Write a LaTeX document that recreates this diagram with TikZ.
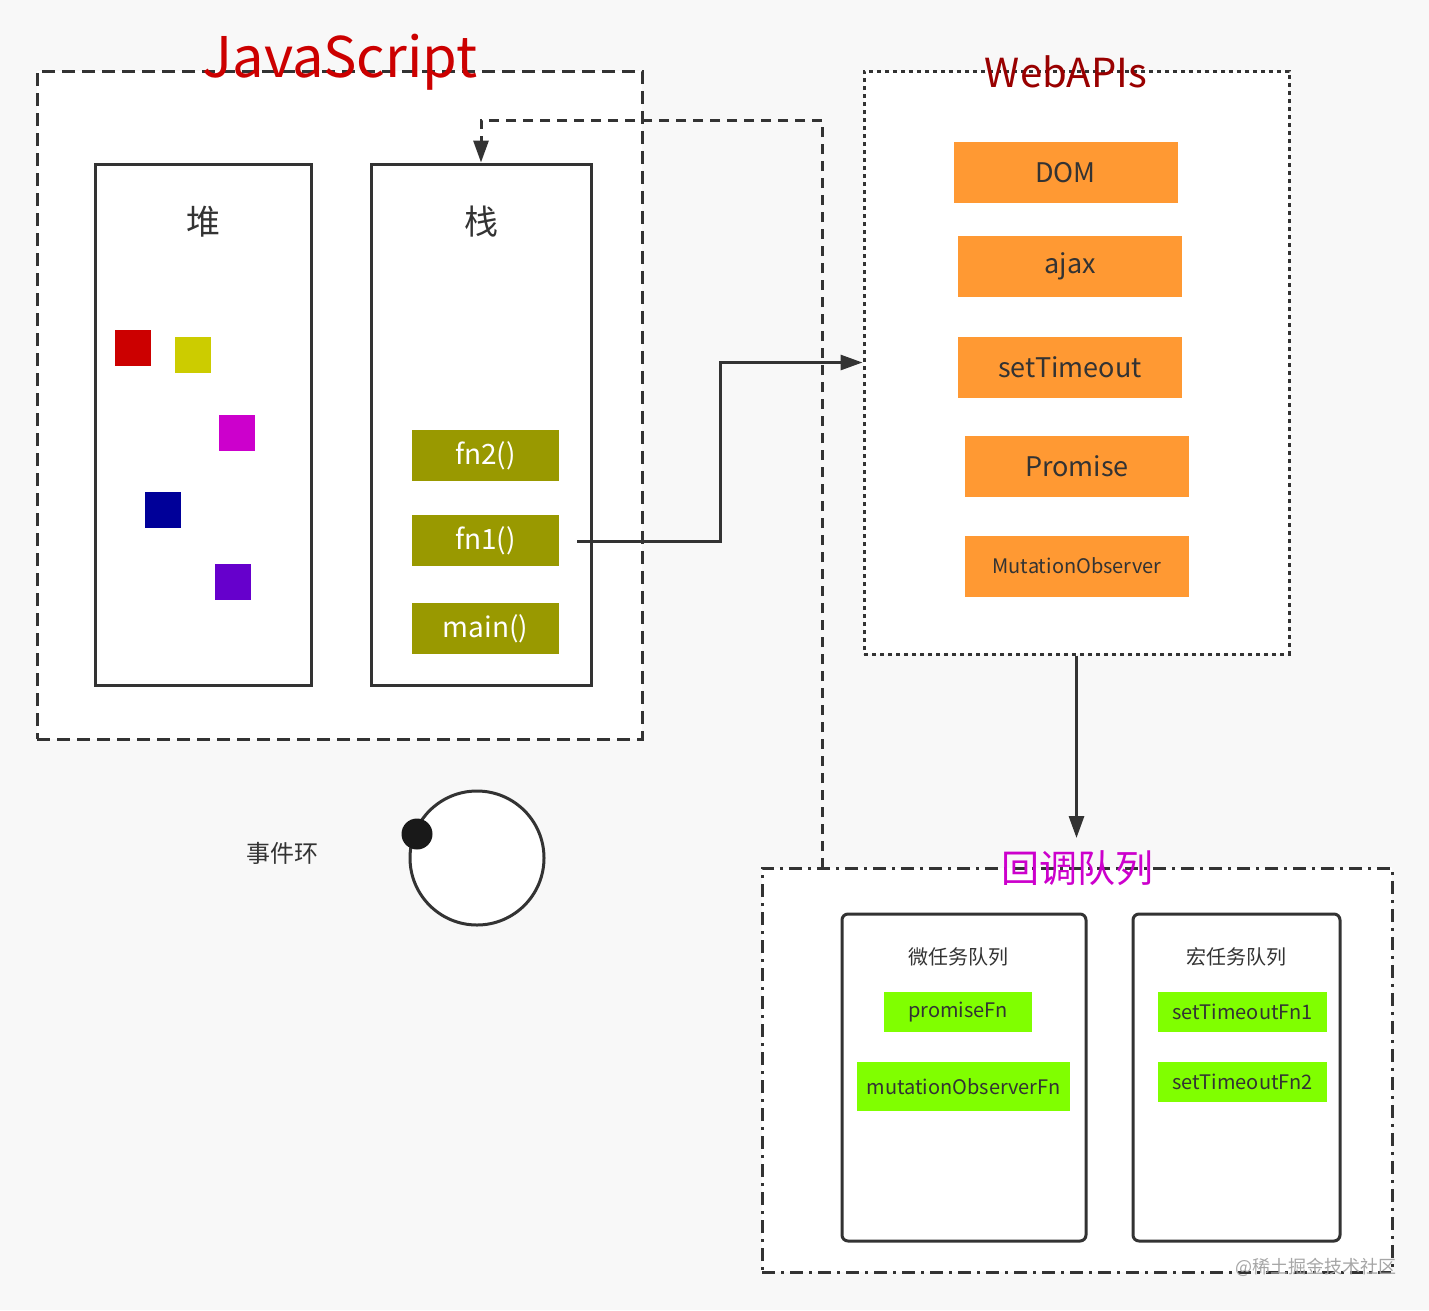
\documentclass[tikz,border=0pt]{standalone}
\usepackage{fontspec}
\setmainfont{Noto Sans CJK SC}
\usetikzlibrary{arrows.meta}
\definecolor{bg}{HTML}{F8F8F8}
\definecolor{ln}{HTML}{333333}
\definecolor{jsred}{HTML}{CC0000}
\definecolor{apired}{HTML}{990000}
\definecolor{cbmag}{HTML}{CC00CC}
\definecolor{olive}{HTML}{999900}
\definecolor{orng}{HTML}{FF9933}
\definecolor{lime}{HTML}{80FF00}
\definecolor{sqred}{HTML}{CC0000}
\definecolor{sqyel}{HTML}{CCCC00}
\definecolor{sqmag}{HTML}{CC00CC}
\definecolor{sqnavy}{HTML}{000099}
\definecolor{sqpur}{HTML}{6600CC}
\tikzset{
  container/.style={draw=ln, line width=3pt, fill=white, inner sep=0pt},
  jsbox/.style={container, dash pattern=on 13pt off 7pt},
  apibox/.style={container, dash pattern=on 4pt off 4pt},
  cbbox/.style={container, dash pattern=on 13pt off 6pt on 3pt off 6pt},
  colbox/.style={draw=ln, line width=3pt, fill=white, inner sep=0pt},
  qbox/.style={draw=ln, line width=3pt, fill=white, rounded corners=6pt, inner sep=0pt},
  sq/.style={inner sep=0pt, minimum size=36pt},
  fnbox/.style={fill=olive, text=white, inner sep=0pt, minimum width=147pt, minimum height=51pt, font=\fontsize{28}{30}\selectfont},
  apiitem/.style={fill=orng, text=ln, inner sep=0pt, minimum width=224pt, minimum height=61pt, font=\fontsize{27}{30}\selectfont},
  cbitem/.style={fill=lime, text=ln, inner sep=0pt, font=\fontsize{20}{22}\selectfont},
  conn/.style={draw=ln, line width=3pt, -{Triangle[length=22pt,width=15pt]}},
  dconn/.style={conn, dash pattern=on 10pt off 7pt},
  label/.style={text=ln, inner sep=0pt},
}
\begin{document}
\begin{tikzpicture}[x=1pt,y=-1pt]
\fill[bg] (0,0) rectangle (1429,1310);
\useasboundingbox (0,0) rectangle (1429,1310);

% JavaScript container
\node[jsbox, minimum width=605pt, minimum height=668pt] (js) at (339.5,405) {};
\node[text=jsred, inner sep=0pt, font=\fontsize{56}{58}\selectfont] (jstitle) at (340,62) {JavaScript};

% heap
\node[colbox, minimum width=216pt, minimum height=521pt] (heap) at (203,424.5) {};
\node[label, font=\fontsize{34}{36}\selectfont] (heaplbl) at (203,222) {堆};
\node[sq, fill=sqred] (s1) at (133,348) {};
\node[sq, fill=sqyel] (s2) at (193,355) {};
\node[sq, fill=sqmag] (s3) at (236.5,433) {};
\node[sq, fill=sqnavy] (s4) at (163,510) {};
\node[sq, fill=sqpur] (s5) at (232.5,582) {};

% stack
\node[colbox, minimum width=220pt, minimum height=521pt] (stack) at (481,424.5) {};
\node[label, font=\fontsize{34}{36}\selectfont] (stacklbl) at (481,222) {栈};
\node[fnbox] (fn2) at (485.5,455.5) {fn2()};
\node[fnbox] (fn1) at (485.5,540.5) {fn1()};
\node[fnbox] (main) at (485.5,628.5) {main()};

% WebAPIs
\node[apibox, minimum width=425pt, minimum height=583pt] (web) at (1076.5,362.5) {};
\node[text=apired, inner sep=0pt, font=\fontsize{40}{42}\selectfont] (webtitle) at (1066,72) {WebAPIs};
\node[apiitem] (dom) at (1065.5,172.5) {DOM};
\node[apiitem] (ajax) at (1070,266.5) {ajax};
\node[apiitem] (st) at (1070,367.5) {setTimeout};
\node[apiitem] (prom) at (1077,466.5) {Promise};
\node[apiitem, font=\fontsize{20}{22}\selectfont] (mo) at (1077,566) {MutationObserver};

% callback queue
\node[cbbox, minimum width=630pt, minimum height=404pt] (cbq) at (1077,1070) {};
\node[text=cbmag, inner sep=0pt, font=\fontsize{38}{40}\selectfont] (cbtitle) at (1077,868) {回调队列};
\node[qbox, minimum width=244pt, minimum height=327pt] (micro) at (964,1077.5) {};
\node[label, font=\fontsize{20}{22}\selectfont] (microlbl) at (958,957) {微任务队列};
\node[qbox, minimum width=207pt, minimum height=327pt] (macro) at (1236.5,1077.5) {};
\node[label, font=\fontsize{20}{22}\selectfont] (macrolbl) at (1236,957) {宏任务队列};
\node[cbitem, minimum width=148pt, minimum height=40pt] (pfn) at (958,1012) {promiseFn};
\node[cbitem, minimum width=213pt, minimum height=49pt] (mfn) at (963.5,1086.5) {mutationObserverFn};
\node[cbitem, minimum width=169pt, minimum height=40pt] (tfn1) at (1242.5,1012) {setTimeoutFn1};
\node[cbitem, minimum width=169pt, minimum height=40pt] (tfn2) at (1242.5,1082) {setTimeoutFn2};

% event loop
\node[label, font=\fontsize{24}{26}\selectfont] (evlbl) at (282,853) {事件环};
\node[circle, draw=ln, line width=3pt, fill=white, minimum size=134pt, inner sep=0pt] (loop) at (477,858) {};
\node[circle, fill=black!90, minimum size=31pt, inner sep=0pt] (dot) at (417,834) {};

% connectors
\coordinate (fn1out) at (577,541);
\draw[conn] (fn1out) -- (720,541) |- (web.west);
\coordinate (cbqin) at (1076.5,838);
\draw[conn] (web.south) -- (cbqin);
\coordinate (cbqtop) at (822,868);
\draw[dconn] (cbqtop) -- (822,120) -| (stack.north);

% watermark
\node[text=black!35, inner sep=0pt, font=\fontsize{18}{20}\selectfont] (wm) at (1316,1267) {@稀土掘金技术社区};
\end{tikzpicture}
\end{document}
